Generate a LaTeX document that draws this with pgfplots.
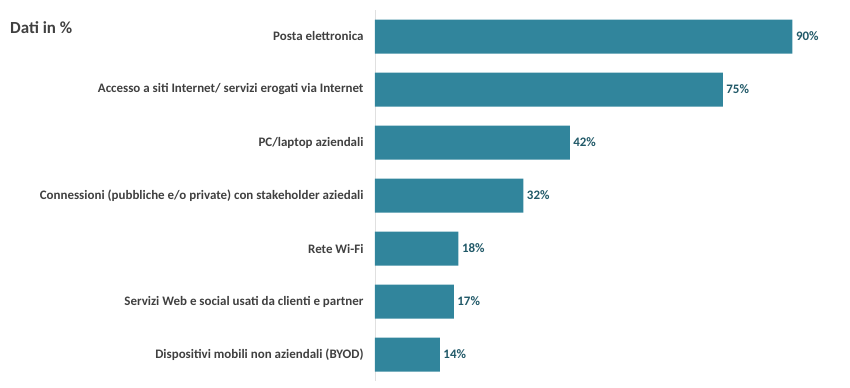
\documentclass[border=0pt]{standalone}
\usepackage{pgfplots}
\pgfplotsset{compat=1.18}
\usepackage{fontspec}
\setmainfont{Carlito}
\definecolor{barc}{HTML}{31859C}
\definecolor{labc}{HTML}{215968}
\definecolor{txtc}{HTML}{404040}
\begin{document}
\begin{tikzpicture}
\useasboundingbox (-375bp,-7bp) rectangle (475bp,381bp);
\begin{axis}[
  at={(0,0)}, anchor=south west,
  scale only axis,
  width=475bp, height=371bp,
  xmin=0, xmax=102.4,
  ymin=-0.5, ymax=6.5,
  y dir=reverse,
  axis x line=none,
  axis y line*=left,
  y axis line style={draw=black!12, line width=0.8pt},
  ytick=data,
  yticklabels={Posta elettronica,
    Accesso a siti Internet/ servizi erogati via Internet,
    PC/laptop aziendali,
    Connessioni (pubbliche e/o private) con stakeholder aziedali,
    Rete Wi-Fi,
    Servizi Web e social usati da clienti e partner,
    Dispositivi mobili non aziendali (BYOD)},
  major tick length=0pt,
  ytick style={draw=none},
  yticklabel style={font=\bfseries\fontsize{13}{15}\selectfont, text=txtc, xshift=-8bp},
  /pgf/number format/assume math mode=true,
  clip=false,
]
\addplot[xbar, fill=barc, draw=none, bar width=34bp,
  nodes near coords={\pgfmathprintnumber{\pgfplotspointmeta}\%},
  point meta=x,
  every node near coord/.append style={anchor=west, font=\bfseries\fontsize{13}{15}\selectfont, text=labc, xshift=0bp}]
  coordinates {(90,0) (75,1) (42,2) (32,3) (18,4) (17,5) (14,6)};
\node[anchor=west, font=\bfseries\fontsize{17}{19}\selectfont, text=txtc, inner sep=0pt]
  at ([xshift=-365bp, yshift=-18bp]rel axis cs:0,1) {Dati in \%};
\end{axis}
\end{tikzpicture}
\end{document}
